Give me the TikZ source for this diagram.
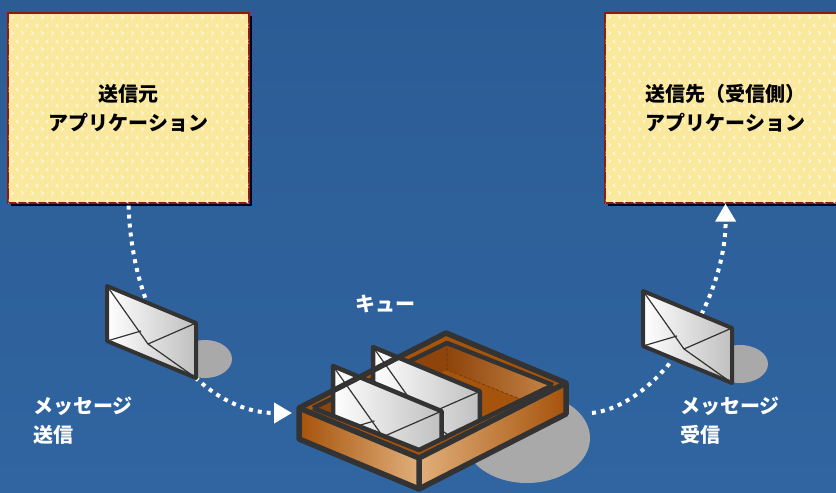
\documentclass[tikz,border=0pt]{standalone}
\usepackage{fontspec}
\setmainfont{Noto Sans CJK JP}
\usetikzlibrary{arrows.meta, shadows, calc, patterns}

\definecolor{bgtop}{HTML}{2C5C94}
\definecolor{bgblue}{HTML}{3065A1}
\definecolor{appyellow}{HTML}{FAE89C}
\definecolor{appborder}{HTML}{8E1B12}
\definecolor{chevronwhite}{HTML}{FFF9E2}
\definecolor{inkgray}{HTML}{333333}
\definecolor{groundgray}{HTML}{A9A9A9}
\definecolor{traybrown}{HTML}{A6530B}
\definecolor{traydark}{HTML}{8E440A}
\definecolor{traylight}{HTML}{E0AF7A}

% small > and < marks on the application boxes
\pgfdeclarepatternformonly{chevrons}{\pgfqpoint{0pt}{0pt}}{\pgfqpoint{9.8pt}{15.6pt}}{\pgfqpoint{9.8pt}{15.6pt}}{
  \pgfsetlinewidth{0.9pt}
  \pgfpathmoveto{\pgfqpoint{1.3pt}{2.1pt}}
  \pgfpathlineto{\pgfqpoint{3.7pt}{3.9pt}}
  \pgfpathlineto{\pgfqpoint{1.3pt}{5.7pt}}
  \pgfpathmoveto{\pgfqpoint{8.6pt}{9.9pt}}
  \pgfpathlineto{\pgfqpoint{6.2pt}{11.7pt}}
  \pgfpathlineto{\pgfqpoint{8.6pt}{13.5pt}}
  \pgfusepath{stroke}
}

\begin{document}
\begin{tikzpicture}[
      x=1pt, y=-1pt,
      % Styles
      app/.style={
        rectangle, draw=appborder, line width=1.2pt, fill=appyellow,
        minimum width=241pt, minimum height=190pt, align=center,
        font=\bfseries\fontsize{20}{29}\selectfont, text=black,
        general shadow={fill=black!85!blue, shadow xshift=2.5pt, shadow yshift=-2.5pt},
        postaction={pattern=chevrons, pattern color=chevronwhite}
      },
      flow/.style={
        draw=white, line width=4pt, dash pattern=on 4pt off 5pt,
        -{Triangle[width=20pt, length=18pt, fill=white]}
      },
      caption/.style={
        text=white, align=left, inner sep=0pt,
        font=\bfseries\fontsize{20}{29}\selectfont
      },
      ground/.style={fill=groundgray},
      ink/.style={draw=inkgray, line width=5.5pt, line join=round},
      letterink/.style={draw=inkgray, line width=4pt, line join=round},
      letter/.pic={
        \draw[letterink, left color=white, right color=black!25]
          (0,0) -- (89,37) -- (89,92) -- (0,55) -- cycle;
        \draw[draw=inkgray, line width=1.2pt]
          (0,0) -- (41,58) -- (89,37)
          (0,55) -- (34,45)
          (41,58) -- (89,92);
      }
    ]

    % background
    \clip (0,0) rectangle (836,493);
    \shade[top color=bgtop, bottom color=bgblue] (0,0) rectangle (836,493);

    % --- 1. NODES ---

    % applications
    \node[app] (src) at (128.5,108) {送信元\\アプリケーション};
    \node[app] (dst) at (725.5,108) {送信先（受信側）\\アプリケーション};

    % queue entry / exit
    \coordinate (qin) at (292,413);
    \coordinate (qout) at (592,413);

    % shadows on the ground
    \fill[ground] (205,359) ellipse [x radius=27, y radius=19];
    \fill[ground] (740,364) ellipse [x radius=28, y radius=19];
    \fill[ground] (527,438) ellipse [x radius=63, y radius=45];

    % --- 2. EDGES ---
    \draw[flow, shorten <=2pt] (src.south) .. controls (133,340) and (210,413) .. (qin);
    \draw[flow] (qout) .. controls (660,405) and (726,300) .. (dst.south);

    % messages in flight
    \pic at (107,286) {letter};
    \pic at (643,291) {letter};

    % --- 3. QUEUE TRAY ---
    \coordinate (L) at (299,408);
    \coordinate (F) at (419,458);
    \coordinate (R) at (566,383);
    \coordinate (B) at (446,333);
    \coordinate (L2) at (299,439);
    \coordinate (F2) at (419,489);
    \coordinate (R2) at (566,414);
    \coordinate (Li) at (313,408);
    \coordinate (Fi) at (419,450);
    \coordinate (Ri) at (553,385);
    \coordinate (Bi) at (447,343);

    \fill[traybrown] (L) -- (B) -- (R) -- (R2) -- (F2) -- (L2) -- cycle;
    \fill[traydark] (Li) -- (Bi) -- (Ri) -- (Fi) -- cycle;
    \shade[left color=traydark, right color=traylight!55!traybrown]
      (Bi) -- (Ri) -- ($(Ri)+(0,27)$) -- ($(Bi)+(0,27)$) -- cycle;
    \begin{scope}
      \clip (Li) -- (Bi) -- (Ri) -- (Fi) -- cycle;
      \fill[traybrown] ($(Li)+(0,27)$) -- ($(Bi)+(0,27)$) -- ($(Ri)+(0,27)$) -- ($(Fi)+(0,27)$) -- cycle;
    \end{scope}
    \draw[traydark!80!black, densely dashed, line width=.6pt]
      (Bi) -- ($(Bi)+(0,27)$) -- ($(Ri)+(0,27)$);
    \draw[ink, line width=4.5pt] (Li) -- (Bi) -- (Ri);

    % messages waiting in the queue
    \begin{scope}[letterink/.style={draw=inkgray, line width=4.5pt, line join=round}]
      \pic[scale=1.2] at (373,347) {letter};
      \pic[scale=1.22] at (333,366) {letter};
    \end{scope}

    % front walls and rim
    \shade[left color=traybrown, right color=traylight] (L) -- (F) -- (F2) -- (L2) -- cycle;
    \shade[left color=traylight, right color=traybrown] (F) -- (R) -- (R2) -- (F2) -- cycle;
    \fill[traybrown] (L) -- (F) -- (R) -- (Ri) -- (Fi) -- (Li) -- cycle;
    \draw[ink] (L) -- (B) -- (R) -- (R2) -- (F2) -- (L2) -- cycle;
    \draw[ink] (L) -- (F) -- (R) (F) -- (F2);
    \draw[ink, line width=4.5pt] (Li) -- (Fi) -- (Ri);

    % --- 4. LABELS ---
    \node[caption] (qlbl) at (385,304) {キュー};
    \node[caption, anchor=base west] (sendlbl) at (33,442) {メッセージ\\送信};
    \node[caption, anchor=base west] (recvlbl) at (680,442) {メッセージ\\受信};

\end{tikzpicture}
\end{document}
